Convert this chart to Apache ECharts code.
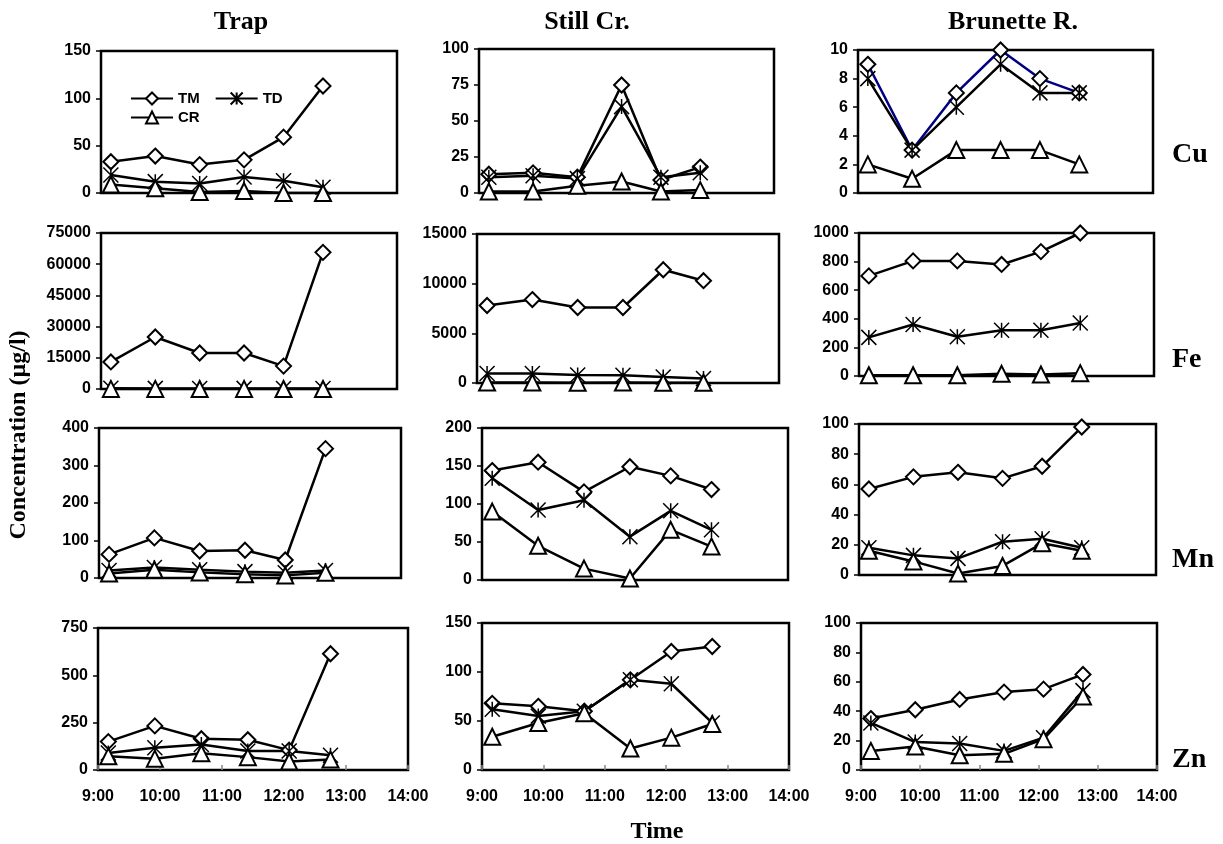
<!DOCTYPE html>
<html>
<head>
<meta charset="utf-8">
<title>Metal concentrations</title>
<style>
  html, body { margin: 0; padding: 0; background: #fff; }
  #chart { width: 1223px; height: 844px; }
</style>
<script src="https://cdn.jsdelivr.net/npm/echarts@6/dist/echarts.min.js"></script>
</head>
<body>
<div id="chart"></div>
<script>
// sampling times (same at the three sites)
var times = ['9:10', '9:55', '10:40', '11:25', '12:05', '12:45'];
var sites = ['Trap', 'Still Cr.', 'Brunette R.'];
var metals = ['Cu', 'Fe', 'Mn', 'Zn'];
var kinds = ['TM', 'TD', 'CR'];

// values, µg/l
var cuTrap = { TM: [33, 39, 30, 35, 59, 113], TD: [19, 12, 10, 17, 13, 6], CR: [9, 5, 1, 2, 0, 0] };
var cuStill = { TM: [13, 14, 11, 75, 9, 18], TD: [11, 12, 10, 60, 11, 14], CR: [1, 1, 5, 8, 1, 2] };
var cuBrun = { TM: [9, 3, 7, 10, 8, 7], TD: [8, 3, 6, 9, 7, 7], CR: [2, 1, 3, 3, 3, 2] };

var feTrap = { TM: [13000, 25000, 17300, 17300, 11000, 65700], TD: [400, 300, 250, 300, 250, 200], CR: [50, 40, 30, 40, 30, 20] };
var feStill = { TM: [7800, 8400, 7600, 7600, 11400, 10300], TD: [950, 950, 800, 780, 600, 450], CR: [50, 40, 30, 40, 30, 30] };
var feBrun = { TM: [700, 805, 805, 780, 870, 1000], TD: [270, 360, 275, 320, 320, 370], CR: [5, 5, 5, 15, 10, 20] };

var mnTrap = { TM: [63, 107, 72, 74, 48, 345], TD: [20, 28, 22, 17, 14, 20], CR: [12, 22, 15, 10, 7, 14] };
var mnStill = { TM: [144, 155, 116, 149, 137, 119], TD: [134, 92, 105, 57, 91, 66], CR: [90, 45, 15, 2, 66, 44] };
var mnBrun = { TM: [57, 65, 68, 64, 72, 98], TD: [18, 13, 11, 22, 24, 18], CR: [16, 9, 1, 6, 21, 16] };

var znTrap = { TM: [150, 233, 165, 160, 105, 614], TD: [90, 118, 135, 100, 100, 78], CR: [72, 60, 88, 68, 45, 55] };
var znStill = { TM: [68, 65, 60, 92, 121, 126], TD: [62, 55, 60, 92, 88, 48], CR: [34, 48, 58, 22, 33, 47] };
var znBrun = { TM: [35, 41, 48, 53, 55, 65], TD: [32, 19, 18, 13, 22, 54], CR: [13, 16, 10, 11, 21, 50] };

var panels = [
  [cuTrap, cuStill, cuBrun],
  [feTrap, feStill, feBrun],
  [mnTrap, mnStill, mnBrun],
  [znTrap, znStill, znBrun]
];

// y axis range per panel
var yMax = [[150, 100, 10], [75000, 15000, 1000], [400, 200, 100], [750, 150, 100]];
var yStep = [[50, 25, 2], [15000, 5000, 200], [100, 50, 20], [250, 50, 20]];

// x axis: 9:00 .. 14:00
var xMin = 9, xMax = 14, xStep = 1;

// plot boxes [left, top, width, height]
var boxes = [
  [[101, 51, 296, 142], [479, 49, 295, 144], [858, 50, 295, 143]],
  [[101, 233, 296, 156], [477, 234, 302, 149], [859, 233, 295, 143]],
  [[99, 428, 302, 150], [482, 428, 306, 152], [859, 424, 297, 151]],
  [[98, 628, 310, 142], [482, 623, 307, 147], [861, 623, 296, 147]]
];

function toHours(t) {
  var p = t.split(':');
  return +p[0] + (+p[1]) / 60;
}

var sans = 'Liberation Sans';
var serif = 'Liberation Serif';

var symbols = {
  TM: 'emptyDiamond',
  TD: 'path://M0,0L10,10M10,0L0,10M5,0L5,10',
  CR: 'emptyTriangle'
};
var symbolSizes = { TM: 15, TD: 15, CR: 16 };

var grids = [], xAxes = [], yAxes = [], series = [];

metals.forEach(function (metal, r) {
  sites.forEach(function (site, c) {
    var idx = grids.length;
    var b = boxes[r][c];
    var bottom = r === metals.length - 1;
    grids.push({
      left: b[0], top: b[1], width: b[2], height: b[3],
      show: true, borderColor: '#000', borderWidth: 2.5, backgroundColor: '#fff'
    });
    xAxes.push({
      type: 'value', gridIndex: idx, min: xMin, max: xMax, interval: xStep,
      axisLine: { show: false },
      splitLine: { show: false },
      axisTick: { show: bottom, inside: true, length: 5, lineStyle: { color: '#888', width: 1.5 } },
      axisLabel: {
        show: bottom, margin: 19, fontSize: 16,
        fontFamily: sans, fontWeight: 'bold', color: '#000',
        formatter: function (v) { return Math.round(v) + ':00'; }
      }
    });
    yAxes.push({
      type: 'value', gridIndex: idx, min: 0, max: yMax[r][c], interval: yStep[r][c],
      axisLine: { show: false },
      splitLine: { show: false },
      axisTick: { show: true, length: 5, lineStyle: { color: '#000', width: 1.5 } },
      axisLabel: {
        margin: 10, fontSize: 16,
        fontFamily: sans, fontWeight: 'bold', color: '#000',
        formatter: function (v) { return String(v); }
      }
    });
    var d = panels[r][c];
    kinds.forEach(function (k) {
      var lineColor = '#000';
      if (metal === 'Cu' && site === 'Brunette R.' && k === 'TM') lineColor = '#000080';
      series.push({
        name: k, type: 'line',
        xAxisIndex: idx, yAxisIndex: idx,
        data: times.map(function (t, i) { return [toHours(t), d[k][i]]; }),
        symbol: symbols[k], symbolSize: symbolSizes[k],
        showAllSymbol: true,
        lineStyle: { color: lineColor, width: 2.5 },
        itemStyle: { color: '#000', borderColor: '#000', borderWidth: 1.5 },
        emphasis: { disabled: true }
      });
    });
  });
});

var legendCommon = {
  orient: 'horizontal', itemWidth: 42, itemHeight: 15, itemGap: 15,
  textStyle: { fontFamily: sans, fontWeight: 'bold', fontSize: 15, color: '#000' },
  selectedMode: false
};

var texts = [];
sites.forEach(function (s, c) {
  var cx = [241, 587, 1013][c];
  texts.push({ type: 'text', x: cx, y: 22,
    style: { text: s, font: 'bold 26px "' + serif + '"', fill: '#000', align: 'center', verticalAlign: 'middle' } });
});
metals.forEach(function (m, r) {
  var cy = [155, 360, 560, 760][r];
  texts.push({ type: 'text', x: 1172, y: cy,
    style: { text: m, font: 'bold 28px "' + serif + '"', fill: '#000', align: 'left', verticalAlign: 'middle' } });
});
texts.push({ type: 'text', x: 19, y: 435, rotation: Math.PI / 2,
  style: { text: 'Concentration (µg/l)', font: 'bold 24px "' + serif + '"', fill: '#000', align: 'center', verticalAlign: 'middle' } });
texts.push({ type: 'text', x: 657, y: 832,
  style: { text: 'Time', font: 'bold 24px "' + serif + '"', fill: '#000', align: 'center', verticalAlign: 'middle' } });

var chart = echarts.init(document.getElementById('chart'));
chart.setOption({
  animation: false,
  backgroundColor: '#fff',
  legend: [
    Object.assign({ left: 125, top: 86, data: ['TM', 'TD'] }, legendCommon),
    Object.assign({ left: 125, top: 105, data: ['CR'] }, legendCommon)
  ],
  grid: grids,
  xAxis: xAxes,
  yAxis: yAxes,
  series: series,
  graphic: texts
});
</script>
</body>
</html>
